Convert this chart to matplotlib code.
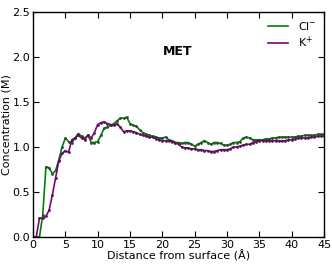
import matplotlib
matplotlib.use("Agg")
import matplotlib.pyplot as plt
from matplotlib.lines import Line2D
import numpy as np

distance = np.arange(0, 45.01, 0.5)
cl_conc = [0, 0, 0, 0.24, 0.78, 0.77, 0.70, 0.74, 0.86, 1.0,
           1.10, 1.06, 1.05, 1.10, 1.15, 1.12, 1.10, 1.13, 1.05, 1.05,
           1.06, 1.13, 1.21, 1.22, 1.24, 1.26, 1.29, 1.32, 1.32, 1.33,
           1.26, 1.24, 1.23, 1.19, 1.16, 1.14, 1.13, 1.12, 1.11, 1.10,
           1.10, 1.11, 1.08, 1.07, 1.05, 1.05, 1.04, 1.05, 1.05, 1.03,
           1.01, 1.03, 1.05, 1.07, 1.05, 1.03, 1.05, 1.05, 1.04, 1.02,
           1.02, 1.03, 1.05, 1.05, 1.06, 1.10, 1.11, 1.10, 1.08, 1.08,
           1.08, 1.08, 1.09, 1.09, 1.10, 1.10, 1.11, 1.11, 1.11, 1.11,
           1.11, 1.11, 1.12, 1.12, 1.13, 1.13, 1.13, 1.13, 1.14, 1.14, 1.14]
k_conc = [0, 0, 0.21, 0.21, 0.23, 0.30, 0.47, 0.66, 0.85, 0.93,
          0.96, 0.94, 1.08, 1.10, 1.13, 1.10, 1.08, 1.13, 1.10, 1.16,
          1.25, 1.27, 1.28, 1.26, 1.25, 1.24, 1.26, 1.22, 1.17, 1.18,
          1.18, 1.17, 1.16, 1.14, 1.13, 1.12, 1.11, 1.11, 1.09, 1.08,
          1.07, 1.07, 1.07, 1.06, 1.05, 1.03, 1.00, 0.99, 0.99, 0.98,
          0.98, 0.97, 0.97, 0.96, 0.96, 0.95, 0.95, 0.96, 0.97, 0.97,
          0.97, 0.98, 1.00, 1.00, 1.01, 1.02, 1.03, 1.03, 1.05, 1.06,
          1.07, 1.07, 1.07, 1.07, 1.07, 1.07, 1.07, 1.07, 1.07, 1.08,
          1.08, 1.09, 1.10, 1.10, 1.10, 1.10, 1.11, 1.11, 1.12, 1.12, 1.12]
labels = ["Cl$^{-}$", "K$^{+}$"]
title_text = "MET"

plt.rcParams['font.family'] = ['DejaVu Sans']
plt.rcParams['font.size'] = 8
plt.rcParams['mathtext.default'] = 'regular'

fig = plt.figure(figsize=(3.32, 2.65), dpi=100)
ax = fig.add_axes([33/332, 1 - 237/265, 291/332, 225/265])

green = (0, 0.5, 0)
purple = (0.5, 0, 0.5)
ax.plot(distance, cl_conc, color=green, lw=1.2, marker='o', ms=1.4,
        mfc=(0.15, 0.3, 0.15), mec=(0.15, 0.3, 0.15), mew=0.5)
ax.plot(distance, k_conc, color=purple, lw=1.2, marker='o', ms=1.4,
        mfc=(0.3, 0.1, 0.3), mec=(0.3, 0.1, 0.3), mew=0.5)

ax.set_xlim(0, 45)
ax.set_ylim(0, 2.5)
ax.set_xticks(np.arange(0, 46, 5))
ax.set_yticks(np.arange(0, 2.51, 0.5))
ax.tick_params(direction='in', top=True, right=True, length=4, width=0.8, pad=2)
for s in ax.spines.values():
    s.set_linewidth(1.0)

ax.set_xlabel("Distance from surface (Å)", labelpad=0)
ax.set_ylabel("Concentration (M)", labelpad=1)
ax.text(22.4, 2.06, title_text, fontweight='bold', ha='center', va='center', fontsize=9)
handles = [Line2D([], [], color=green, lw=1.2), Line2D([], [], color=purple, lw=1.2)]
ax.legend(handles, labels, loc='upper right', frameon=False, handlelength=1.8, fontsize=8,
          borderaxespad=0.3, labelspacing=0.3, handletextpad=0.9)

fig.savefig("out.png", dpi=100)
